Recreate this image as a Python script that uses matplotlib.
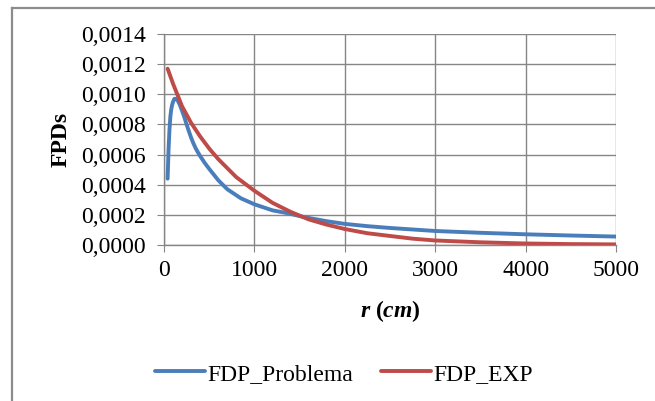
import matplotlib
matplotlib.use("Agg")
import matplotlib.pyplot as plt
from matplotlib.lines import Line2D

# Datos
r_problema = [40, 50, 60, 70, 80, 90, 100, 115, 130, 150, 175, 200, 225, 250, 275, 300, 325,
              350, 375, 400, 450, 500, 600, 700, 850, 1000, 1200, 1350, 1550, 1800, 2000,
              2250, 2500, 3000, 3500, 4000, 4500, 5000]
fdp_problema = [0.00044, 0.00063, 0.00076, 0.00085, 0.00090, 0.00093, 0.00095, 0.00097,
                0.00097, 0.00096, 0.00093, 0.00089, 0.000848, 0.00080, 0.000755, 0.000712,
                0.000675, 0.000642, 0.000615, 0.00059, 0.000545, 0.000505, 0.00043, 0.00037,
                0.00031, 0.00027, 0.00023, 0.000213, 0.000185, 0.000158, 0.000140, 0.000125,
                0.000113, 0.000093, 0.000081, 0.000071, 0.000063, 0.000056]

r_exp = [40, 100, 200, 300, 400, 500, 600, 700, 800, 1000, 1200, 1400, 1600, 1800, 2000,
         2250, 2500, 2750, 3000, 3500, 4000, 4500, 5000]
fdp_exp = [0.00117, 0.00107, 0.00092, 0.00081, 0.00072, 0.00064, 0.00057, 0.00051, 0.00045,
           0.00036, 0.00028, 0.00022, 0.00017, 0.000135, 0.000106, 0.000078, 0.000060,
           0.000042, 0.000030, 0.000018, 0.000010, 0.000006, 0.000004]

x_ticks = [0, 1000, 2000, 3000, 4000, 5000]
y_ticks = [0, 0.0002, 0.0004, 0.0006, 0.0008, 0.0010, 0.0012, 0.0014]
y_tick_labels = ["0,0000", "0,0002", "0,0004", "0,0006", "0,0008", "0,0010", "0,0012", "0,0014"]

plt.rcParams["font.family"] = ["Liberation Serif", "DejaVu Serif"]
plt.rcParams["mathtext.fontset"] = "custom"
plt.rcParams["mathtext.it"] = "Liberation Serif:italic:bold"
plt.rcParams["mathtext.rm"] = "Liberation Serif:bold"
grid_col = "#868686"
fs = 17

fig = plt.figure(figsize=(6.55, 4.01), dpi=100)
ax = fig.add_axes([164 / 655, 1 - 245 / 401, (616 - 164) / 655, (245 - 34) / 401])

ax.plot(r_problema, fdp_problema, color="#4A7EBB", lw=2.8, label="FDP_Problema",
        solid_capstyle="round", solid_joinstyle="round", zorder=3)
ax.plot(r_exp, fdp_exp, color="#BE4B48", lw=2.8, label="FDP_EXP",
        solid_capstyle="round", solid_joinstyle="round", zorder=3)

ax.set_xlim(0, 5000)
ax.set_ylim(0, 0.0014)
ax.set_xticks(x_ticks)
ax.set_yticks(y_ticks)
ax.set_yticklabels(y_tick_labels)
ax.grid(True, color=grid_col, lw=1.0)
ax.set_axisbelow(True)
for side in ["top", "right"]:
    ax.spines[side].set_visible(False)
for side in ["left", "bottom"]:
    ax.spines[side].set_color(grid_col)
    ax.spines[side].set_linewidth(1.0)
ax.tick_params(direction="out", length=5, color=grid_col, labelsize=fs)
ax.tick_params(axis="y", pad=8)
ax.tick_params(axis="x", pad=6)

ax.set_xlabel(r"$r$ ($cm$)", fontsize=fs, fontweight="bold", labelpad=12)
ax.set_ylabel("FPDs", fontsize=fs, fontweight="bold", labelpad=7)

fig.legend(loc="center", bbox_to_anchor=(344 / 655, 1 - 374 / 401), ncol=2, frameon=False,
           fontsize=fs, handlelength=2.1, handletextpad=0.1, columnspacing=1.2,
           borderaxespad=0)

# marco exterior
fig.add_artist(Line2D([12 / 655, 12 / 655], [0, 1 - 8 / 401], color="#8c8c8c", lw=1.6))
fig.add_artist(Line2D([12 / 655, 1], [1 - 8 / 401, 1 - 8 / 401], color="#8c8c8c", lw=1.6))

fig.savefig("out.png", dpi=100)
